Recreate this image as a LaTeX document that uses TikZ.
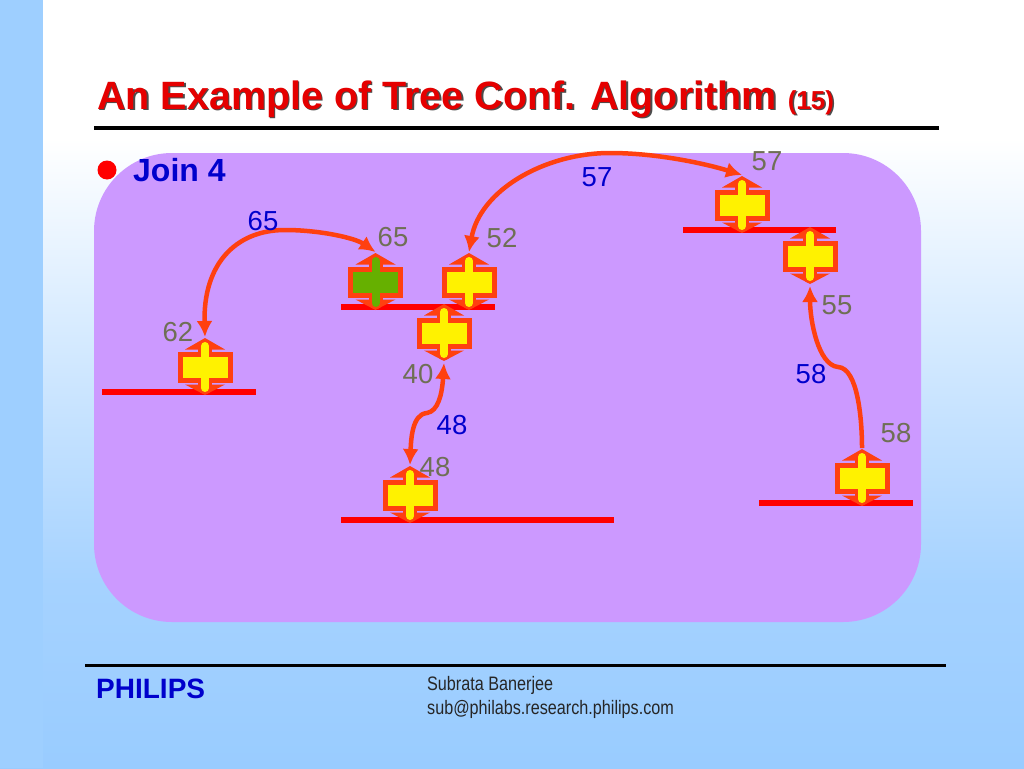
\documentclass[tikz,border=0pt]{standalone}
\usepackage{xcolor}
\usepackage{fontspec}
\setmainfont{Liberation Sans}
\usepackage{tikz}
\usetikzlibrary{arrows.meta}
\definecolor{skyblue}{HTML}{99CCFF}
\definecolor{panelviolet}{HTML}{CC99FF}
\definecolor{linkred}{HTML}{FF4010}
\definecolor{labelgray}{HTML}{6F6F55}
\definecolor{labelblue}{HTML}{0000CC}
\definecolor{rootgreen}{HTML}{66B000}
\pgfdeclareverticalshading{slidefade}{100bp}{color(0bp)=(skyblue); color(25bp)=(skyblue); color(37bp)=(skyblue!88!white); color(55bp)=(skyblue!35!white); color(66bp)=(white); color(100bp)=(white)}
\tikzset{
  routerspot/.style={rectangle,minimum width=55,minimum height=60,inner sep=0,outer sep=0},
  hop/.style={font=\fontsize{27.5}{27.5}\selectfont,text=labelgray,inner sep=0},
  cost/.style={font=\fontsize{27.5}{27.5}\selectfont,text=labelblue,inner sep=0},
  link/.style={draw=linkred,line width=4.5,-{Latex[length=16,width=16]}},
  duallink/.style={link,{Latex[length=16,width=16]}-{Latex[length=16,width=16]}},
  lanbar/.style={draw=red,line width=6},
  router/.pic={
    \fill[linkred] (-20,-17.5) -- (0,-29) -- (20,-17.5) -- cycle;
    \fill[linkred] (-20,17.5) -- (0,28) -- (20,17.5) -- cycle;
    \draw[linkred,line width=14,line cap=round] (0,-20) -- (0,20);
    \draw[linkred,line width=5,fill=#1] (-25,-13) rectangle (25,13);
    \draw[#1,line width=8,line cap=round] (0,-21) -- (0,21);
  }
}
% name, position, colour
\newcommand{\routerat}[3]{
  \pic at (#2) {router=#3};
  \node[routerspot] (#1) at (#2) {};
}
\begin{document}
\begin{tikzpicture}[x=1pt,y=-1pt]
  \useasboundingbox (0,0) rectangle (1024,768);
  \path[shading=slidefade] (0,0) rectangle (1024,768);
  \fill[skyblue!95!white] (0,0) rectangle (43,768);
  \fill[panelviolet,rounded corners=78] (94,153) rectangle (921,622);

  % title
  \node[anchor=base west,inner sep=0,text=black!70] (titleshadow) at (98.5,110.5) {\fontsize{39.5}{39.5}\selectfont\bfseries An Example of Tree Conf. Algorithm \fontsize{26}{26}\selectfont (15)};
  \node[anchor=base west,inner sep=0,text=red!90!black] (title) at (97,109) {\fontsize{39.5}{39.5}\selectfont\bfseries An Example of Tree Conf. Algorithm \fontsize{26}{26}\selectfont (15)};
  \draw[line width=4] (94,128) -- (939,128);
  \fill[red] (107,170) circle (9.5);
  \node[anchor=base west,inner sep=0,text=labelblue] (join) at (133,181) {\fontsize{32}{32}\selectfont\bfseries Join 4};

  % LAN segments
  \draw[lanbar] (102,392) -- (256,392);
  \draw[lanbar] (341,307) -- (495,307);
  \draw[lanbar] (341,520) -- (614,520);
  \draw[lanbar] (683,230) -- (836,230);
  \draw[lanbar] (759,503) -- (913,503);

  % routers
  \routerat{rA}{205,367}{yellow}
  \routerat{rB}{375.5,282}{rootgreen}
  \routerat{rC}{469,282}{yellow}
  \routerat{rD}{444,333}{yellow}
  \routerat{rE}{410,495}{yellow}
  \routerat{rF}{742,205}{yellow}
  \routerat{rG}{810,256}{yellow}
  \routerat{rH}{862,478}{yellow}

  % connections
  \draw[duallink] (rA.north) .. controls (203,265) and (235,230) .. (285,230) .. controls (320,230) and (355,238) .. (rB.north);
  \draw[duallink] (rC.north) .. controls (480,190) and (545,153) .. (610,153) .. controls (660,153) and (710,165) .. (rF.north);
  \draw[duallink] (rE.north) .. controls (411,440) and (412,414) .. (427,413) .. controls (438,411) and (442,395) .. (rD.south);
  \draw[link] (rH.north) .. controls (862,420) and (858,368) .. (838,367) .. controls (818,365) and (810,320) .. (rG.south);

  % labels
  \node[hop] (h62) at (178,332) {62};
  \node[hop] (h65) at (393,237) {65};
  \node[hop] (h52) at (502,238) {52};
  \node[hop] (h40) at (418,374) {40};
  \node[hop] (h48) at (435,467) {48};
  \node[hop] (h57) at (767,161) {57};
  \node[hop] (h55) at (837,305) {55};
  \node[hop] (h58) at (896,433) {58};
  \node[cost] (c65) at (263,221) {65};
  \node[cost] (c57) at (597,177) {57};
  \node[cost] (c48) at (452,425) {48};
  \node[cost] (c58) at (811,374) {58};

  % footer
  \draw[line width=3] (85,665) -- (946,665);
  \node[anchor=base west,inner sep=0,text=labelblue] (brand) at (96,698) {\fontsize{28}{28}\selectfont\bfseries PHILIPS};
  \node[anchor=base west,inner sep=0,text=black!85,xscale=0.83] (author) at (427,690) {\fontsize{19.5}{19.5}\selectfont Subrata Banerjee};
  \node[anchor=base west,inner sep=0,text=black!85,xscale=0.83] (mail) at (427,714) {\fontsize{19.5}{19.5}\selectfont sub@philabs.research.philips.com};
\end{tikzpicture}
\end{document}
